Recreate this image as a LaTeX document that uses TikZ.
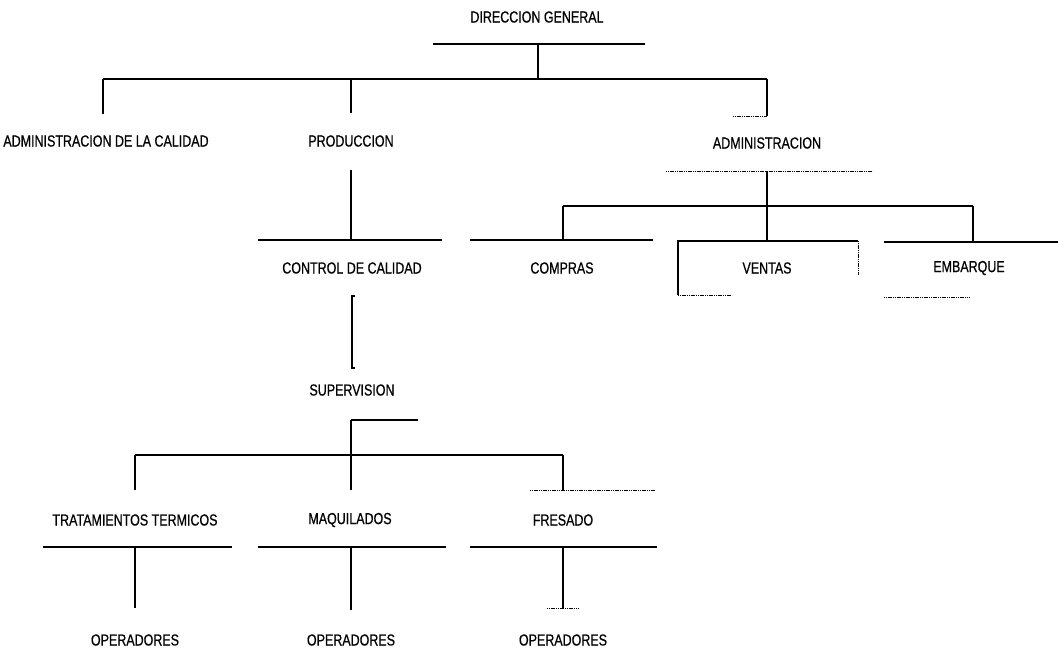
\documentclass[tikz,border=0pt]{standalone}
\usepackage{fontspec}
\setmainfont{Liberation Sans}[FakeStretch=0.78,FakeBold=0.6]
\begin{document}
\begin{tikzpicture}[x=1pt,y=-1pt,
    lbl/.style={font=\fontsize{16}{19}\selectfont, inner sep=0pt},
    bar/.style={line width=1.6pt},
    rule/.style={line width=1.1pt},
    faint/.style={line width=0.9pt, dash pattern=on 1.2pt off 0.6pt}]
    \useasboundingbox (0,0) rectangle (1058,657);
    \def\ax{103}; \def\bx{135}; \def\cx{351}; \def\dx{538}; \def\ex{563};
    \def\fx{767}; \def\gx{973};

    % labels
    \node[lbl] (DG) at (537,17) {DIRECCION GENERAL};
    \node[lbl] (ADC) at (106,141) {ADMINISTRACION DE LA CALIDAD};
    \node[lbl] (PRO) at (\cx,141) {PRODUCCION};
    \node[lbl] (ADM) at (\fx,143) {ADMINISTRACION};
    \node[lbl] (CC) at (352,268) {CONTROL DE CALIDAD};
    \node[lbl] (COM) at (562,268) {COMPRAS};
    \node[lbl] (VEN) at (\fx,268) {VENTAS};
    \node[lbl] (EMB) at (969,268) {EMBARQUE};
    \node[lbl] (SUP) at (352,390) {SUPERVISION};
    \node[lbl] (TT) at (\bx,520) {TRATAMIENTOS TERMICOS};
    \node[lbl] (MAQ) at (350,520) {MAQUILADOS};
    \node[lbl] (FRE) at (\ex,520) {FRESADO};
    \node[lbl] (OP1) at (\bx,640) {OPERADORES};
    \node[lbl] (OP2) at (\cx,640) {OPERADORES};
    \node[lbl] (OP3) at (\ex,640) {OPERADORES};

    % top level
    \coordinate (dgL) at (433,44); \coordinate (dgR) at (645,44);
    \coordinate (dgT) at (\dx,44); \coordinate (dgB) at (\dx,79);
    \coordinate (barL) at (\ax,79); \coordinate (barR) at (\fx,79);
    \coordinate (barP) at (\cx,79);
    \coordinate (adcT) at (\ax,114); \coordinate (proT) at (\cx,113);
    \coordinate (admT) at (\fx,116); \coordinate (admTL) at (733,116);
    \draw[rule] (dgL) -- (dgR); \draw[bar] (dgT) -- (dgB);
    \draw[bar] (barL) -- (barR);
    \draw[bar] (barL) -- (adcT); \draw[bar] (barP) -- (proT);
    \draw[bar] (barR) -- (admT); \draw[faint] (admTL) -- (admT);

    % produccion / control de calidad
    \coordinate (proB) at (\cx,170); \coordinate (ccT) at (\cx,240);
    \coordinate (ccL) at (258,240); \coordinate (ccR) at (442,240);
    \draw[bar] (proB) -- (ccT); \draw[rule] (ccL) -- (ccR);
    \draw[bar] (355,296) -- (352,296) -- (352,368) -- (355,368);

    % administracion
    \coordinate (admL) at (666,171); \coordinate (admR) at (873,171);
    \coordinate (admB) at (\fx,171); \coordinate (sbar) at (\fx,206);
    \coordinate (sbarL) at (\ex,206); \coordinate (sbarR) at (\gx,206);
    \coordinate (comT) at (\ex,240); \coordinate (venT) at (\fx,241);
    \coordinate (embT) at (\gx,242);
    \draw[faint] (admL) -- (admR);
    \draw[bar] (admB) -- (sbar); \draw[bar] (sbarL) -- (sbarR);
    \draw[bar] (sbarL) -- (comT); \draw[bar] (sbar) -- (venT);
    \draw[bar] (sbarR) -- (embT);
    \draw[rule] (470,240) -- (653,240);
    \draw[rule] (678,295) -- (678,241) -- (858,241);
    \draw[faint] (678,295) -- (732,295); \draw[faint] (858,241) -- (858,275);
    \draw[rule] (884,242) -- (1058,242);
    \draw[faint] (884,297) -- (970,297);

    % supervision
    \coordinate (supT) at (\cx,420); \coordinate (supR) at (418,420);
    \coordinate (tbar) at (\cx,455);
    \coordinate (tbarL) at (\bx,455); \coordinate (tbarR) at (\ex,455);
    \coordinate (ttT) at (\bx,490); \coordinate (maqT) at (\cx,490);
    \coordinate (freT) at (\ex,490);
    \draw[rule] (supR) -- (supT); \draw[bar] (supT) -- (maqT);
    \draw[bar] (tbarL) -- (tbarR);
    \draw[bar] (tbarL) -- (ttT); \draw[bar] (tbarR) -- (freT);
    \draw[faint] (530,490) -- (655,490);

    % operadores
    \draw[rule] (43,547) -- (232,547); \draw[rule] (258,547) -- (446,547);
    \draw[rule] (470,547) -- (657,547);
    \draw[bar] (\bx,547) -- (\bx,608); \draw[bar] (\cx,547) -- (\cx,610);
    \draw[bar] (\ex,547) -- (\ex,608); \draw[faint] (547,608) -- (579,608);
  \end{tikzpicture}
\end{document}
